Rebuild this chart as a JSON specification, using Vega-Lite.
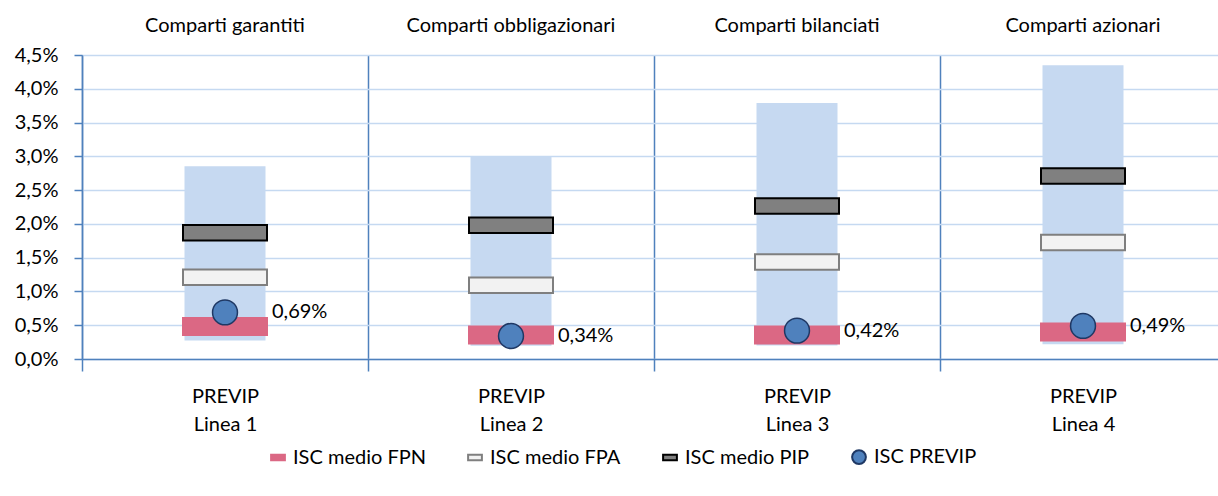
{
  "$schema": "https://vega.github.io/schema/vega-lite/v6.json",
  "width": 1136,
  "height": 304,
  "autosize": {"type": "none"},
  "padding": {"left": 82, "top": 55, "right": 0, "bottom": 137},
  "config": {
    "locale": {"number": {"decimal": ",", "thousands": ".", "grouping": [3], "currency": ["€", ""]}},
    "font": "Lato",
    "view": {"stroke": null},
    "axis": {"labelFont": "Lato", "labelFontSize": 20, "labelColor": "#000000"},
    "legend": {
      "labelFont": "Lato", "labelFontSize": 20, "labelColor": "#000000",
      "symbolSize": 190, "symbolStrokeWidth": 2, "columnPadding": 38,
      "labelOffset": 5, "padding": 0
    }
  },
  "datasets": {
    "range": [
      {"linea": "Linea 1", "min": 0.00275, "max": 0.02855},
      {"linea": "Linea 2", "min": 0.00196, "max": 0.0299},
      {"linea": "Linea 3", "min": 0.0020, "max": 0.0379},
      {"linea": "Linea 4", "min": 0.0022, "max": 0.0435}
    ],
    "vals": [
      {"linea": "Linea 1", "serie": "ISC medio FPN", "value": 0.00482},
      {"linea": "Linea 1", "serie": "ISC medio FPA", "value": 0.0121},
      {"linea": "Linea 1", "serie": "ISC medio PIP", "value": 0.0187},
      {"linea": "Linea 1", "serie": "ISC PREVIP", "value": 0.0069},
      {"linea": "Linea 2", "serie": "ISC medio FPN", "value": 0.00355},
      {"linea": "Linea 2", "serie": "ISC medio FPA", "value": 0.01093},
      {"linea": "Linea 2", "serie": "ISC medio PIP", "value": 0.0198},
      {"linea": "Linea 2", "serie": "ISC PREVIP", "value": 0.0034},
      {"linea": "Linea 3", "serie": "ISC medio FPN", "value": 0.00355},
      {"linea": "Linea 3", "serie": "ISC medio FPA", "value": 0.01437},
      {"linea": "Linea 3", "serie": "ISC medio PIP", "value": 0.02265},
      {"linea": "Linea 3", "serie": "ISC PREVIP", "value": 0.0042},
      {"linea": "Linea 4", "serie": "ISC medio FPN", "value": 0.00399},
      {"linea": "Linea 4", "serie": "ISC medio FPA", "value": 0.01723},
      {"linea": "Linea 4", "serie": "ISC medio PIP", "value": 0.02708},
      {"linea": "Linea 4", "serie": "ISC PREVIP", "value": 0.0049}
    ]
  },
  "layer": [
    {
      "data": {"name": "range"},
      "mark": {"type": "bar", "width": 81, "color": "#C6D9F1"},
      "encoding": {
        "x": {
          "field": "linea", "type": "nominal",
          "scale": {"type": "band", "domain": ["Linea 1", "Linea 2", "Linea 3", "Linea 4"], "range": [0, 1144], "paddingInner": 0, "paddingOuter": 0},
          "axis": {
            "orient": "bottom", "title": null, "labelAngle": 0, "tickBand": "extent",
            "grid": true, "gridColor": "#4F81BD", "gridWidth": 1.5,
            "domainColor": "#4F81BD", "domainWidth": 1.5,
            "tickColor": "#4F81BD", "tickWidth": 1.5, "tickSize": 12,
            "labelPadding": 15, "labelLineHeight": 28, "labelBaseline": "top",
            "labelExpr": "datum.value ? ['PREVIP', datum.value] : ''"
          }
        },
        "y": {
          "field": "min", "type": "quantitative", "title": null,
          "scale": {"domain": [0, 0.045], "nice": false},
          "axis": {
            "values": [0, 0.005, 0.01, 0.015, 0.02, 0.025, 0.03, 0.035, 0.04, 0.045],
            "format": ".1%", "grid": true, "gridColor": "#C5D9F1", "gridWidth": 1.5,
            "domainColor": "#4F81BD", "domainWidth": 1.5, "labelOverlap": false,
            "tickColor": "#4F81BD", "tickWidth": 1.5, "tickSize": 8, "labelPadding": 16
          }
        },
        "y2": {"field": "max"}
      }
    },
    {
      "data": {"name": "vals"},
      "transform": [{"filter": {"field": "serie", "equal": "ISC medio FPN"}}],
      "mark": {"type": "tick", "size": 86, "thickness": 19, "strokeWidth": 0, "filled": true, "opacity": 1},
      "encoding": {
        "x": {
          "field": "linea", "type": "nominal",
          "axis": {
            "orient": "top", "title": null, "domain": false, "ticks": false, "grid": false,
            "labelAngle": 0, "labelPadding": 20, "labelLimit": 500,
            "labelExpr": "datum.value == 'Linea 1' ? 'Comparti garantiti' : datum.value == 'Linea 2' ? 'Comparti obbligazionari' : datum.value == 'Linea 3' ? 'Comparti bilanciati' : 'Comparti azionari'"
          }
        },
        "y": {
          "field": "value", "type": "quantitative", "title": null,
          "axis": {
            "values": [0, 0.005, 0.01, 0.015, 0.02, 0.025, 0.03, 0.035, 0.04, 0.045],
            "format": ".1%", "grid": true, "gridColor": "#C5D9F1", "gridWidth": 1.5,
            "domainColor": "#4F81BD", "domainWidth": 1.5, "labelOverlap": false,
            "tickColor": "#4F81BD", "tickWidth": 1.5, "tickSize": 8, "labelPadding": 16
          }
        },
        "fill": {
          "field": "serie", "type": "nominal",
          "scale": {"domain": ["ISC medio FPN", "ISC medio FPA", "ISC medio PIP", "ISC PREVIP"], "range": ["#DB6884", "#F2F2F2", "#808080", "#4F81BD"]},
          "legend": {"orient": "none", "legendX": 186, "legendY": 392, "direction": "horizontal", "title": null}
        },
        "stroke": {
          "field": "serie", "type": "nominal",
          "scale": {"domain": ["ISC medio FPN", "ISC medio FPA", "ISC medio PIP", "ISC PREVIP"], "range": ["#DB6884", "#7F7F7F", "#000000", "#1F3864"]}
        }
      }
    },
    {
      "data": {"name": "vals"},
      "transform": [{"filter": {"field": "serie", "oneOf": ["ISC medio FPA", "ISC medio PIP"]}}],
      "mark": {"type": "tick", "size": 84, "thickness": 15.5, "strokeWidth": 2, "filled": true, "opacity": 1},
      "encoding": {
        "x": {"field": "linea", "type": "nominal", "axis": null},
        "y": {
          "field": "value", "type": "quantitative", "title": null,
          "axis": {
            "values": [0, 0.005, 0.01, 0.015, 0.02, 0.025, 0.03, 0.035, 0.04, 0.045],
            "format": ".1%", "grid": true, "gridColor": "#C5D9F1", "gridWidth": 1.5,
            "domainColor": "#4F81BD", "domainWidth": 1.5, "labelOverlap": false,
            "tickColor": "#4F81BD", "tickWidth": 1.5, "tickSize": 8, "labelPadding": 16
          }
        },
        "fill": {"field": "serie", "type": "nominal"},
        "stroke": {"field": "serie", "type": "nominal"}
      }
    },
    {
      "data": {"name": "vals"},
      "transform": [{"filter": {"field": "serie", "equal": "ISC PREVIP"}}],
      "mark": {"type": "point", "size": 620, "filled": true, "strokeWidth": 1.5, "opacity": 1},
      "encoding": {
        "x": {"field": "linea", "type": "nominal", "axis": null},
        "y": {
          "field": "value", "type": "quantitative", "title": null,
          "axis": {
            "values": [0, 0.005, 0.01, 0.015, 0.02, 0.025, 0.03, 0.035, 0.04, 0.045],
            "format": ".1%", "grid": true, "gridColor": "#C5D9F1", "gridWidth": 1.5,
            "domainColor": "#4F81BD", "domainWidth": 1.5, "labelOverlap": false,
            "tickColor": "#4F81BD", "tickWidth": 1.5, "tickSize": 8, "labelPadding": 16
          }
        },
        "fill": {"field": "serie", "type": "nominal"},
        "stroke": {"field": "serie", "type": "nominal"},
        "shape": {
          "field": "serie", "type": "nominal",
          "scale": {"domain": ["ISC medio FPN", "ISC medio FPA", "ISC medio PIP", "ISC PREVIP"], "range": ["M-1,-0.4H1V0.4H-1Z", "M-1,-0.4H1V0.4H-1Z", "M-1,-0.4H1V0.4H-1Z", "circle"]}
        }
      }
    },
    {
      "data": {"name": "vals"},
      "transform": [{"filter": {"field": "serie", "equal": "ISC PREVIP"}}],
      "mark": {"type": "text", "align": "left", "baseline": "middle", "dx": 47, "fontSize": 20, "font": "Lato", "color": "#000000"},
      "encoding": {
        "x": {"field": "linea", "type": "nominal", "axis": null},
        "y": {
          "field": "value", "type": "quantitative", "title": null,
          "axis": {
            "values": [0, 0.005, 0.01, 0.015, 0.02, 0.025, 0.03, 0.035, 0.04, 0.045],
            "format": ".1%", "grid": true, "gridColor": "#C5D9F1", "gridWidth": 1.5,
            "domainColor": "#4F81BD", "domainWidth": 1.5, "labelOverlap": false,
            "tickColor": "#4F81BD", "tickWidth": 1.5, "tickSize": 8, "labelPadding": 16
          }
        },
        "text": {"field": "value", "type": "quantitative", "format": ".2%"}
      }
    }
  ]
}
